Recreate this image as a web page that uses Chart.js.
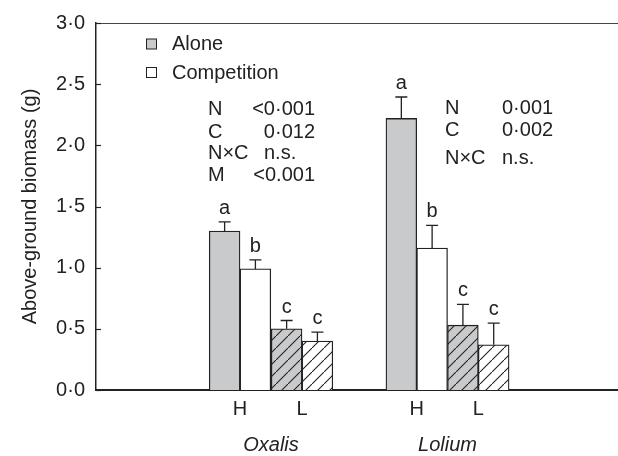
<!DOCTYPE html>
<html>
<head>
<meta charset="utf-8">
<script src="https://cdn.jsdelivr.net/npm/chart.js"></script>
<style>
  html, body { margin: 0; padding: 0; background: #fff; }
  #wrap { width: 618px; height: 456px; position: relative; }
</style>
</head>
<body>
<div id="wrap"><canvas id="chart"></canvas></div>
<script>
// data
const species = ['Oxalis', 'Lolium'];
const nutrient = ['H', 'L', 'H', 'L'];
const aloneMeans = [1.30, 0.50, 2.22, 0.53];
const aloneErr = [0.075, 0.068, 0.175, 0.17];
const aloneLetters = ['a', 'c', 'a', 'c'];
const competitionMeans = [0.99, 0.40, 1.16, 0.37];
const competitionErr = [0.073, 0.073, 0.185, 0.176];
const competitionLetters = ['b', 'c', 'b', 'c'];
const yTickLabels = ['0·0', '0·5', '1·0', '1·5', '2·0', '2·5', '3·0'];
const oxalisStats = [['N', '<0·001'], ['C', '0·012'], ['N×C', 'n.s.'], ['M', '<0.001']];
const loliumStats = [['N', '0·001'], ['C', '0·002'], ['N×C', 'n.s.']];

// layout of the x axis (one unit = distance between H and L)
const xMax = 8.46;
const slotPos = [2.334, 3.339, 5.198, 6.196];
const groupPos = [2.836, 5.697];

const FONT = '"Liberation Sans", Arial, Helvetica, sans-serif';
const INK = '#222';
const GREY = '#c9cacc';

function hatch(bg) {
  const c = document.createElement('canvas');
  c.width = 12; c.height = 12;
  const g = c.getContext('2d');
  g.fillStyle = bg;
  g.fillRect(0, 0, 12, 12);
  g.strokeStyle = INK;
  g.lineWidth = 1.1;
  g.beginPath();
  g.moveTo(-2, 14); g.lineTo(14, -2);
  g.stroke();
  return g.createPattern(c, 'repeat');
}

const ctxMain = document.getElementById('chart').getContext('2d');
const aloneFill = nutrient.map(n => n === 'H' ? GREY : hatch(GREY));
const compFill = nutrient.map(n => n === 'H' ? '#ffffff' : hatch('#ffffff'));

const annotations = {
  id: 'annotations',
  afterDatasetsDraw(chart) {
    const ctx = chart.ctx;
    const area = chart.chartArea;
    const y = chart.scales.y;
    ctx.save();

    // top frame line
    ctx.strokeStyle = '#444';
    ctx.lineWidth = 1;
    ctx.beginPath();
    ctx.moveTo(area.left, area.top + 0.5);
    ctx.lineTo(chart.width, area.top + 0.5);
    ctx.stroke();

    // inward y ticks
    ctx.lineWidth = 1.2;
    ctx.strokeStyle = INK;
    y.ticks.forEach((t, i) => {
      const py = Math.round(y.getPixelForTick(i)) + 0.5;
      ctx.beginPath();
      ctx.moveTo(area.left, py);
      ctx.lineTo(area.left + 5, py);
      ctx.stroke();
    });

    // error bars + letters
    const errs = [aloneErr, competitionErr];
    const means = [aloneMeans, competitionMeans];
    const letters = [aloneLetters, competitionLetters];
    ctx.font = '20px ' + FONT;
    ctx.fillStyle = INK;
    ctx.textAlign = 'center';
    ctx.textBaseline = 'alphabetic';
    chart.data.datasets.forEach((ds, di) => {
      chart.getDatasetMeta(di).data.forEach((bar, i) => {
        const top = y.getPixelForValue(means[di][i] + errs[di][i]);
        ctx.lineWidth = 1.3;
        ctx.beginPath();
        ctx.moveTo(bar.x, bar.y);
        ctx.lineTo(bar.x, top);
        ctx.moveTo(bar.x - 6, top);
        ctx.lineTo(bar.x + 6, top);
        ctx.stroke();
        ctx.fillText(letters[di][i], bar.x, top - 8);
      });
    });

    // legend
    ctx.textAlign = 'left';
    ctx.textBaseline = 'middle';
    [['Alone', GREY, 43.5], ['Competition', '#ffffff', 72]].forEach(([label, fill, cy]) => {
      ctx.fillStyle = fill;
      ctx.fillRect(146.5, cy - 4.5, 10, 10);
      ctx.strokeStyle = INK;
      ctx.lineWidth = 1;
      ctx.strokeRect(146.5, cy - 4.5, 10, 10);
      ctx.fillStyle = INK;
      ctx.fillText(label, 172, cy + 1);
    });

    // statistics
    const rowsOx = [108.5, 131, 152.5, 174];
    oxalisStats.forEach(([k, v], i) => {
      ctx.textAlign = 'left';
      ctx.fillText(k, 208, rowsOx[i] + 1);
      if (v === 'n.s.') {
        ctx.fillText(v, 264, rowsOx[i] + 1);
      } else {
        ctx.textAlign = 'right';
        ctx.fillText(v, 315, rowsOx[i] + 1);
      }
    });
    const rowsLo = [107.5, 129, 157];
    ctx.textAlign = 'left';
    loliumStats.forEach(([k, v], i) => {
      ctx.fillText(k, 445, rowsLo[i] + 1);
      ctx.fillText(v, 502, rowsLo[i] + 1);
    });

    ctx.restore();
  }
};

new Chart(ctxMain, {
  type: 'bar',
  data: {
    datasets: [
      {
        label: 'Alone',
        data: aloneMeans.map((v, i) => ({ x: slotPos[i], y: v })),
        backgroundColor: aloneFill,
        borderColor: INK,
        borderWidth: 1.3
      },
      {
        label: 'Competition',
        data: competitionMeans.map((v, i) => ({ x: slotPos[i], y: v })),
        backgroundColor: compFill,
        borderColor: INK,
        borderWidth: 1.3
      }
    ]
  },
  options: {
    responsive: true,
    maintainAspectRatio: false,
    animation: false,
    layout: { padding: { left: 0, right: 0, top: 20, bottom: 0 } },
    categoryPercentage: 1,
    barPercentage: 1,
    plugins: {
      legend: { display: false },
      tooltip: { enabled: false }
    },
    scales: {
      x: {
        type: 'linear',
        position: 'bottom',
        offset: false,
        min: 0,
        max: xMax,
        weight: 0,
        grid: { display: false, drawTicks: false },
        border: { display: true, color: INK, width: 2 },
        afterBuildTicks: s => { s.ticks = slotPos.map(v => ({ value: v })); },
        afterFit: s => { s.height = 36; s.paddingLeft = 0; s.paddingRight = 0; },
        ticks: {
          padding: 7,
          color: INK,
          font: { family: FONT, size: 20 },
          autoSkip: false,
          maxRotation: 0,
          callback: (v, i) => nutrient[i]
        }
      },
      x2: {
        type: 'linear',
        position: 'bottom',
        offset: false,
        min: 0,
        max: xMax,
        weight: 1,
        grid: { display: false, drawTicks: false },
        border: { display: false },
        afterBuildTicks: s => { s.ticks = groupPos.map(v => ({ value: v })); },
        afterFit: s => { s.height = 30; s.paddingLeft = 0; s.paddingRight = 0; },
        ticks: {
          padding: 7,
          color: INK,
          font: { family: FONT, size: 20, style: 'italic' },
          autoSkip: false,
          maxRotation: 0,
          callback: (v, i) => species[i]
        }
      },
      y: {
        min: 0,
        max: 3,
        grid: { display: false, drawTicks: false },
        border: { display: true, color: INK, width: 1.5 },
        afterFit: s => { s.width = 96; },
        ticks: {
          stepSize: 0.5,
          padding: 11,
          color: INK,
          font: { family: FONT, size: 20 },
          callback: (v, i) => yTickLabels[i]
        },
        title: {
          display: true,
          text: 'Above-ground biomass (g)',
          color: INK,
          font: { family: FONT, size: 20 },
          padding: { top: 18, bottom: 0 }
        }
      }
    }
  },
  plugins: [annotations]
});
</script>
</body>
</html>
